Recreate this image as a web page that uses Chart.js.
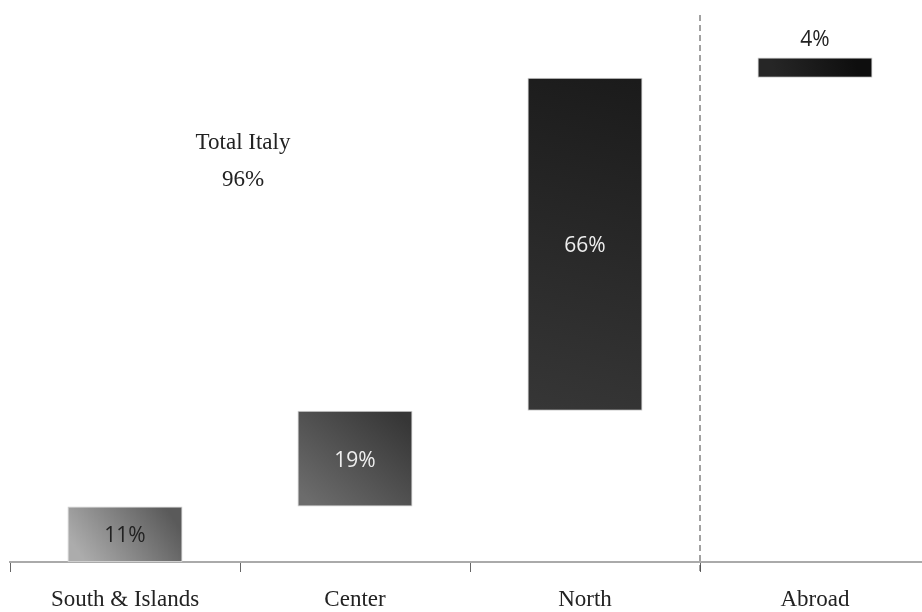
<!DOCTYPE html>
<html>
<head>
<meta charset="utf-8">
<script src="https://cdn.jsdelivr.net/npm/chart.js@4.4.1/dist/chart.umd.min.js"></script>
<style>
  html, body { margin: 0; padding: 0; background: #fff; overflow: hidden; }
  #wrap { width: 930px; height: 612px; }
</style>
</head>
<body>
<div id="wrap"><canvas id="revenueChart"></canvas></div>
<script>
/* global Chart */

let regions = ["South & Islands", "Center", "North", "Abroad"];
let shares = [11, 19, 66, 4];
let shareLabels = ["11%", "19%", "66%", "4%"];
let totalLabel = ["Total Italy", "96%"];

// gradient stops per bar (top-right colour, bottom-left colour)
let barTops = ["#5a5a5a", "#363636", "#1b1b1b", "#0e0e0e"];
let barBottoms = ["#acacac", "#6c6c6c", "#363636", "#262626"];

// waterfall: each bar floats on top of the previous ones
let ranges = [];
let running = 0;
shares.forEach((s) => {
  ranges.push([running, running + s]);
  running += s;
});

const labelPlugin = {
  id: "shareLabels",
  afterDatasetsDraw(chart) {
    const ctx = chart.ctx;
    const meta = chart.getDatasetMeta(0);
    ctx.save();
    ctx.textAlign = "center";
    ctx.textBaseline = "middle";
    meta.data.forEach((bar, i) => {
      ctx.font = "21px 'Open Sans', sans-serif";
      if (i === regions.length - 1) {
        ctx.fillStyle = "#222";
        ctx.fillText(shareLabels[i], bar.x, bar.y - 17);
      } else {
        ctx.fillStyle = i === 0 ? "#222" : "#eeeeee";
        ctx.fillText(shareLabels[i], bar.x, (bar.y + bar.base) / 2 + 2);
      }
    });

    // total for the domestic regions
    ctx.fillStyle = "#222";
    ctx.font = "23px 'Liberation Serif', serif";
    const x = chart.scales.x.getPixelForValue(0) + 118;
    ctx.fillText(totalLabel[0], x, 143);
    ctx.fillText(totalLabel[1], x, 180);

    // dashed divider between Italy and Abroad
    const xs = chart.scales.x;
    const divX = (xs.getPixelForValue(2) + xs.getPixelForValue(3)) / 2;
    ctx.strokeStyle = "#444";
    ctx.lineWidth = 1;
    ctx.setLineDash([6, 4]);
    ctx.beginPath();
    ctx.moveTo(divX, 15);
    ctx.lineTo(divX, chart.chartArea.bottom + 10);
    ctx.stroke();
    ctx.restore();
  },
};

var ctx = document.getElementById("revenueChart").getContext("2d");
var revenueChart = new Chart(ctx, {
  type: "bar",
  data: {
    labels: regions,
    datasets: [
      {
        data: ranges,
        backgroundColor: function (context) {
          const chart = context.chart;
          const i = context.dataIndex;
          if (!chart.chartArea) return barTops[i];
          const y = chart.scales.y;
          const x = chart.scales.x.getPixelForValue(i);
          const r = ranges[i];
          const g = chart.ctx.createLinearGradient(
            x - 40, y.getPixelForValue(r[0]),
            x + 40, y.getPixelForValue(r[1])
          );
          g.addColorStop(0, barBottoms[i]);
          g.addColorStop(1, barTops[i]);
          return g;
        },
        borderColor: "#d0d0d0",
        borderWidth: 1,
        borderSkipped: false,
        barPercentage: 0.5,
        categoryPercentage: 1.0,
      },
    ],
  },
  options: {
    responsive: true,
    maintainAspectRatio: false,
    animation: false,
    layout: { padding: { top: 7, left: 10, right: 0, bottom: 0 } },
    plugins: {
      legend: { display: false },
      tooltip: { enabled: false },
    },
    scales: {
      x: {
        grid: {
          offset: true,
          drawOnChartArea: false,
          tickLength: 10,
          color: "#666",
        },
        border: { color: "#aaa", width: 2 },
        ticks: {
          color: "#222",
          padding: 14,
          font: { family: "'Liberation Serif', serif", size: 23 },
        },
        afterFit(scale) {
          scale.height = 50;
        },
      },
      y: {
        display: false,
        min: 0,
        max: 110,
      },
    },
  },
  plugins: [labelPlugin],
});
</script>
</body>
</html>
